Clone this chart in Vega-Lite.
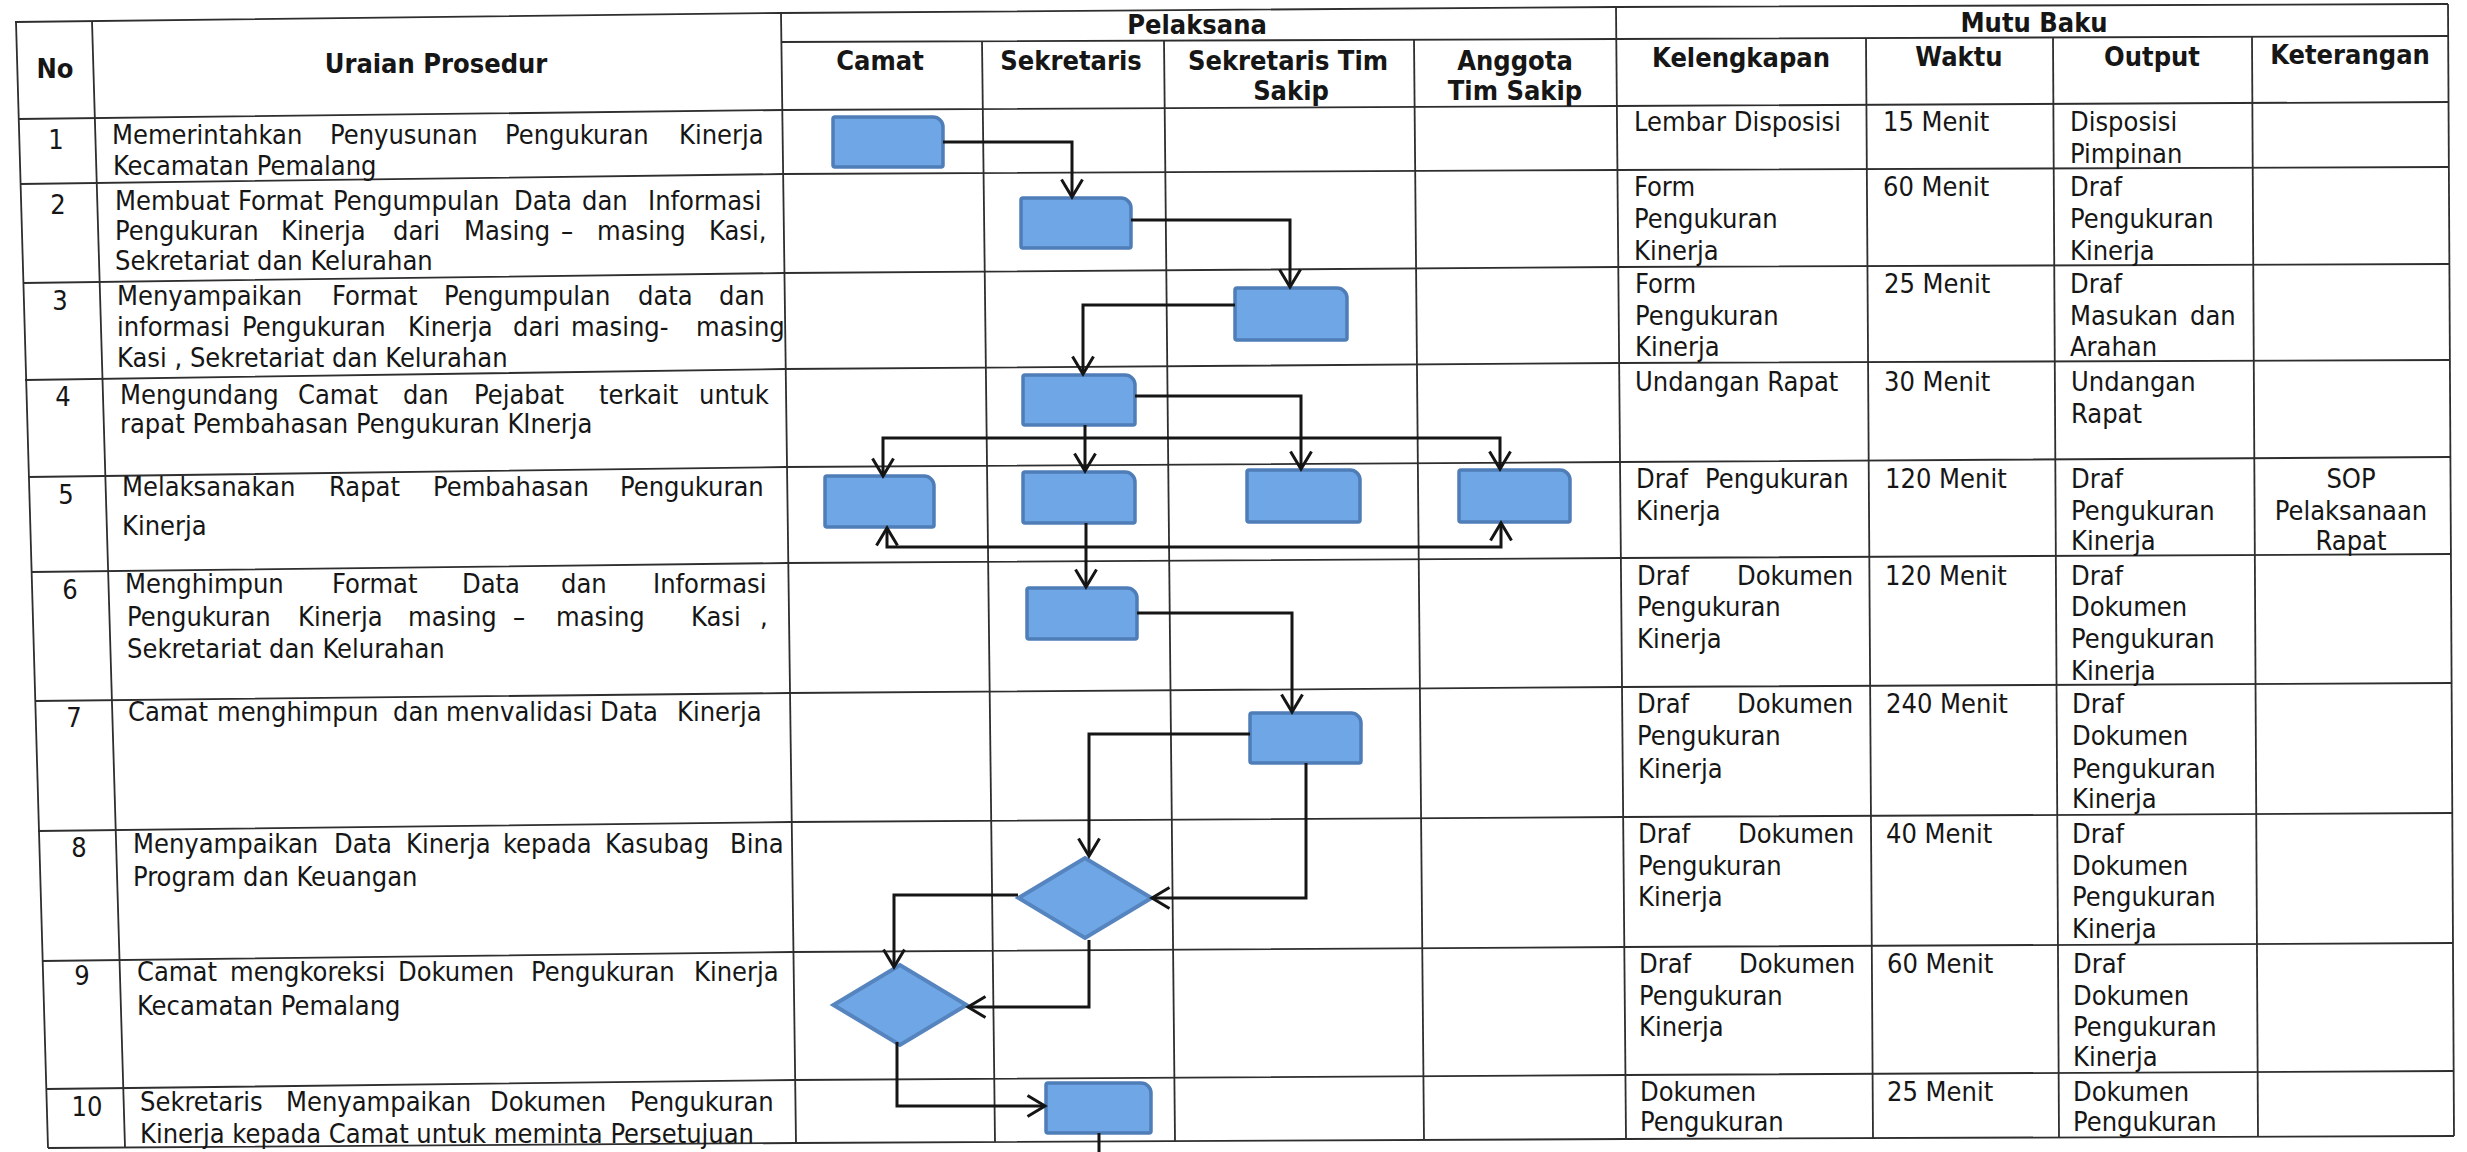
{
  "$schema": "https://vega.github.io/schema/vega-lite/v6.json",
  "width": 2467,
  "height": 1152,
  "autosize": "none",
  "padding": 0,
  "background": "#ffffff",
  "config": {"view": {"stroke": null}},
  "datasets": {
    "grid": [
      {"id":"htop","o":0,"x":15,"y":22},{"id":"htop","o":1,"x":781,"y":13},{"id":"htop","o":2,"x":1616,"y":7},{"id":"htop","o":3,"x":2448,"y":4},
      {"id":"hpel","o":0,"x":781,"y":42},{"id":"hpel","o":1,"x":1616,"y":39},{"id":"hpel","o":2,"x":2448,"y":36},
      {"id":"hhead","o":0,"x":18,"y":119},{"id":"hhead","o":1,"x":783,"y":110},{"id":"hhead","o":2,"x":1617,"y":106},{"id":"hhead","o":3,"x":2449,"y":102},
      {"id":"h1","o":0,"x":20,"y":184},{"id":"h1","o":1,"x":783,"y":174},{"id":"h1","o":2,"x":1618,"y":170},{"id":"h1","o":3,"x":2449,"y":167},
      {"id":"h2","o":0,"x":23,"y":283},{"id":"h2","o":1,"x":784,"y":273},{"id":"h2","o":2,"x":1618,"y":267},{"id":"h2","o":3,"x":2449,"y":264},
      {"id":"h3","o":0,"x":25,"y":380},{"id":"h3","o":1,"x":785,"y":369},{"id":"h3","o":2,"x":1619,"y":363},{"id":"h3","o":3,"x":2450,"y":360},
      {"id":"h4","o":0,"x":28,"y":477},{"id":"h4","o":1,"x":786,"y":467},{"id":"h4","o":2,"x":1620,"y":462},{"id":"h4","o":3,"x":2450,"y":457},
      {"id":"h5","o":0,"x":31,"y":572},{"id":"h5","o":1,"x":787,"y":563},{"id":"h5","o":2,"x":1621,"y":558},{"id":"h5","o":3,"x":2451,"y":554},
      {"id":"h6","o":0,"x":35,"y":701},{"id":"h6","o":1,"x":789,"y":693},{"id":"h6","o":2,"x":1622,"y":687},{"id":"h6","o":3,"x":2451,"y":683},
      {"id":"h7","o":0,"x":38,"y":831},{"id":"h7","o":1,"x":791,"y":822},{"id":"h7","o":2,"x":1623,"y":817},{"id":"h7","o":3,"x":2452,"y":813},
      {"id":"h8","o":0,"x":42,"y":961},{"id":"h8","o":1,"x":793,"y":952},{"id":"h8","o":2,"x":1624,"y":947},{"id":"h8","o":3,"x":2453,"y":943},
      {"id":"h9","o":0,"x":46,"y":1089},{"id":"h9","o":1,"x":795,"y":1080},{"id":"h9","o":2,"x":1625,"y":1075},{"id":"h9","o":3,"x":2453,"y":1071},
      {"id":"hbot","o":0,"x":48,"y":1148},{"id":"hbot","o":1,"x":796,"y":1143},{"id":"hbot","o":2,"x":1626,"y":1139},{"id":"hbot","o":3,"x":2454,"y":1136},
      {"id":"vleft","o":0,"x":16,"y":22},{"id":"vleft","o":1,"x":48,"y":1148},
      {"id":"vno","o":0,"x":92,"y":21},{"id":"vno","o":1,"x":125,"y":1147},
      {"id":"vur","o":0,"x":781,"y":13},{"id":"vur","o":1,"x":796,"y":1143},
      {"id":"vcs","o":0,"x":982,"y":41},{"id":"vcs","o":1,"x":995,"y":1142},
      {"id":"vss","o":0,"x":1164,"y":40},{"id":"vss","o":1,"x":1175,"y":1141},
      {"id":"vsa","o":0,"x":1414,"y":40},{"id":"vsa","o":1,"x":1424,"y":1140},
      {"id":"vak","o":0,"x":1616,"y":7},{"id":"vak","o":1,"x":1626,"y":1139},
      {"id":"vkw","o":0,"x":1866,"y":38},{"id":"vkw","o":1,"x":1873,"y":1138},
      {"id":"vwo","o":0,"x":2053,"y":37},{"id":"vwo","o":1,"x":2059,"y":1137},
      {"id":"vok","o":0,"x":2252,"y":37},{"id":"vok","o":1,"x":2258,"y":1137},
      {"id":"vright","o":0,"x":2448,"y":4},{"id":"vright","o":1,"x":2454,"y":1136}
    ],
    "conn": [
      {"id":"c1","o":0,"x":943,"y":142},{"id":"c1","o":1,"x":1072,"y":142},{"id":"c1","o":2,"x":1072,"y":196},
      {"id":"c2","o":0,"x":1131,"y":220},{"id":"c2","o":1,"x":1290,"y":220},{"id":"c2","o":2,"x":1290,"y":286},
      {"id":"c3","o":0,"x":1235,"y":305},{"id":"c3","o":1,"x":1083,"y":305},{"id":"c3","o":2,"x":1083,"y":373},
      {"id":"c4","o":0,"x":1135,"y":396},{"id":"c4","o":1,"x":1301,"y":396},{"id":"c4","o":2,"x":1301,"y":468},
      {"id":"c5","o":0,"x":1085,"y":425},{"id":"c5","o":1,"x":1085,"y":470},
      {"id":"c6","o":0,"x":883,"y":475},{"id":"c6","o":1,"x":883,"y":438},{"id":"c6","o":2,"x":1500,"y":438},{"id":"c6","o":3,"x":1500,"y":468},
      {"id":"c7","o":0,"x":887,"y":528},{"id":"c7","o":1,"x":887,"y":547},{"id":"c7","o":2,"x":1501,"y":547},{"id":"c7","o":3,"x":1501,"y":523},
      {"id":"c8","o":0,"x":1086,"y":523},{"id":"c8","o":1,"x":1086,"y":586},
      {"id":"c9","o":0,"x":1137,"y":613},{"id":"c9","o":1,"x":1292,"y":613},{"id":"c9","o":2,"x":1292,"y":711},
      {"id":"c10","o":0,"x":1250,"y":734},{"id":"c10","o":1,"x":1089,"y":734},{"id":"c10","o":2,"x":1089,"y":855},
      {"id":"c11","o":0,"x":1306,"y":763},{"id":"c11","o":1,"x":1306,"y":898},{"id":"c11","o":2,"x":1152,"y":898},
      {"id":"c12","o":0,"x":1018,"y":895},{"id":"c12","o":1,"x":894,"y":895},{"id":"c12","o":2,"x":894,"y":966},
      {"id":"c13","o":0,"x":1089,"y":940},{"id":"c13","o":1,"x":1089,"y":1007},{"id":"c13","o":2,"x":968,"y":1007},
      {"id":"c14","o":0,"x":897,"y":1042},{"id":"c14","o":1,"x":897,"y":1106},{"id":"c14","o":2,"x":1045,"y":1106},
      {"id":"c15","o":0,"x":1099,"y":1133},{"id":"c15","o":1,"x":1099,"y":1152}
    ],
    "arrows": [
      {"x":1072,"y":197,"d":"down"},{"x":1290,"y":287,"d":"down"},{"x":1083,"y":374,"d":"down"},
      {"x":1301,"y":469,"d":"down"},{"x":1085,"y":471,"d":"down"},{"x":883,"y":476,"d":"down"},
      {"x":1500,"y":469,"d":"down"},{"x":887,"y":528,"d":"up"},{"x":1501,"y":523,"d":"up"},
      {"x":1086,"y":587,"d":"down"},{"x":1292,"y":712,"d":"down"},{"x":1089,"y":856,"d":"down"},
      {"x":1152,"y":898,"d":"left"},{"x":894,"y":967,"d":"down"},{"x":968,"y":1007,"d":"left"},
      {"x":1045,"y":1106,"d":"right"}
    ],
    "boxes": [
      {"x":833,"y":117,"xe":943,"ye":167},
      {"x":1021,"y":198,"xe":1131,"ye":248},
      {"x":1235,"y":288,"xe":1347,"ye":340},
      {"x":1023,"y":375,"xe":1135,"ye":425},
      {"x":825,"y":476,"xe":934,"ye":527},
      {"x":1023,"y":472,"xe":1135,"ye":523},
      {"x":1247,"y":470,"xe":1360,"ye":522},
      {"x":1459,"y":470,"xe":1570,"ye":522},
      {"x":1027,"y":588,"xe":1137,"ye":639},
      {"x":1250,"y":713,"xe":1361,"ye":763},
      {"x":1046,"y":1083,"xe":1151,"ye":1133}
    ],
    "diamonds": [
      {"x":1085,"y":898},
      {"x":900,"y":1005}
    ],
    "texts": [
      {"k":"h","x":55,"y":70,"t":"No"},
      {"k":"h","x":436,"y":65,"t":"Uraian Prosedur"},
      {"k":"h","x":1197,"y":26,"t":"Pelaksana"},
      {"k":"h","x":880,"y":62,"t":"Camat"},
      {"k":"h","x":1071,"y":62,"t":"Sekretaris"},
      {"k":"h","x":1288,"y":62,"t":"Sekretaris Tim"},
      {"k":"h","x":1291,"y":92,"t":"Sakip"},
      {"k":"h","x":1515,"y":62,"t":"Anggota"},
      {"k":"h","x":1515,"y":92,"t":"Tim Sakip"},
      {"k":"h","x":2034,"y":24,"t":"Mutu Baku"},
      {"k":"h","x":1741,"y":59,"t":"Kelengkapan"},
      {"k":"h","x":1959,"y":58,"t":"Waktu"},
      {"k":"h","x":2152,"y":58,"t":"Output"},
      {"k":"h","x":2350,"y":56,"t":"Keterangan"},
      {"k":"c","x":56,"y":141,"t":"1"},
      {"k":"c","x":58,"y":206,"t":"2"},
      {"k":"c","x":60,"y":302,"t":"3"},
      {"k":"c","x":63,"y":398,"t":"4"},
      {"k":"c","x":66,"y":496,"t":"5"},
      {"k":"c","x":70,"y":591,"t":"6"},
      {"k":"c","x":74,"y":719,"t":"7"},
      {"k":"c","x":79,"y":849,"t":"8"},
      {"k":"c","x":82,"y":977,"t":"9"},
      {"k":"c","x":87,"y":1108,"t":"10"},
      {"k":"c","x":2351,"y":480,"t":"SOP"},
      {"k":"c","x":2351,"y":512,"t":"Pelaksanaan"},
      {"k":"c","x":2351,"y":542,"t":"Rapat"},
      {"k":"l","x":112,"y":136,"t":"Memerintahkan"},
      {"k":"l","x":330,"y":136,"t":"Penyusunan"},
      {"k":"l","x":505,"y":136,"t":"Pengukuran"},
      {"k":"l","x":679,"y":136,"t":"Kinerja"},
      {"k":"l","x":113,"y":167,"t":"Kecamatan Pemalang"},
      {"k":"l","x":115,"y":202,"t":"Membuat"},
      {"k":"l","x":238,"y":202,"t":"Format"},
      {"k":"l","x":333,"y":202,"t":"Pengumpulan"},
      {"k":"l","x":514,"y":202,"t":"Data"},
      {"k":"l","x":582,"y":202,"t":"dan"},
      {"k":"l","x":648,"y":202,"t":"Informasi"},
      {"k":"l","x":115,"y":232,"t":"Pengukuran"},
      {"k":"l","x":281,"y":232,"t":"Kinerja"},
      {"k":"l","x":393,"y":232,"t":"dari"},
      {"k":"l","x":464,"y":232,"t":"Masing"},
      {"k":"l","x":561,"y":232,"t":"–"},
      {"k":"l","x":597,"y":232,"t":"masing"},
      {"k":"l","x":709,"y":232,"t":"Kasi,"},
      {"k":"l","x":115,"y":262,"t":"Sekretariat dan Kelurahan"},
      {"k":"l","x":117,"y":297,"t":"Menyampaikan"},
      {"k":"l","x":332,"y":297,"t":"Format"},
      {"k":"l","x":444,"y":297,"t":"Pengumpulan"},
      {"k":"l","x":638,"y":297,"t":"data"},
      {"k":"l","x":719,"y":297,"t":"dan"},
      {"k":"l","x":117,"y":328,"t":"informasi"},
      {"k":"l","x":242,"y":328,"t":"Pengukuran"},
      {"k":"l","x":408,"y":328,"t":"Kinerja"},
      {"k":"l","x":513,"y":328,"t":"dari"},
      {"k":"l","x":571,"y":328,"t":"masing-"},
      {"k":"l","x":696,"y":328,"t":"masing"},
      {"k":"l","x":117,"y":359,"t":"Kasi , Sekretariat dan Kelurahan"},
      {"k":"l","x":120,"y":396,"t":"Mengundang"},
      {"k":"l","x":298,"y":396,"t":"Camat"},
      {"k":"l","x":403,"y":396,"t":"dan"},
      {"k":"l","x":474,"y":396,"t":"Pejabat"},
      {"k":"l","x":599,"y":396,"t":"terkait"},
      {"k":"l","x":699,"y":396,"t":"untuk"},
      {"k":"l","x":120,"y":425,"t":"rapat Pembahasan Pengukuran KInerja"},
      {"k":"l","x":122,"y":488,"t":"Melaksanakan"},
      {"k":"l","x":329,"y":488,"t":"Rapat"},
      {"k":"l","x":433,"y":488,"t":"Pembahasan"},
      {"k":"l","x":620,"y":488,"t":"Pengukuran"},
      {"k":"l","x":122,"y":527,"t":"Kinerja"},
      {"k":"l","x":125,"y":585,"t":"Menghimpun"},
      {"k":"l","x":332,"y":585,"t":"Format"},
      {"k":"l","x":462,"y":585,"t":"Data"},
      {"k":"l","x":561,"y":585,"t":"dan"},
      {"k":"l","x":653,"y":585,"t":"Informasi"},
      {"k":"l","x":127,"y":618,"t":"Pengukuran"},
      {"k":"l","x":298,"y":618,"t":"Kinerja"},
      {"k":"l","x":408,"y":618,"t":"masing"},
      {"k":"l","x":513,"y":618,"t":"–"},
      {"k":"l","x":556,"y":618,"t":"masing"},
      {"k":"l","x":691,"y":618,"t":"Kasi"},
      {"k":"l","x":760,"y":618,"t":","},
      {"k":"l","x":127,"y":650,"t":"Sekretariat dan Kelurahan"},
      {"k":"l","x":128,"y":713,"t":"Camat"},
      {"k":"l","x":217,"y":713,"t":"menghimpun"},
      {"k":"l","x":393,"y":713,"t":"dan"},
      {"k":"l","x":446,"y":713,"t":"menvalidasi"},
      {"k":"l","x":600,"y":713,"t":"Data"},
      {"k":"l","x":677,"y":713,"t":"Kinerja"},
      {"k":"l","x":133,"y":845,"t":"Menyampaikan"},
      {"k":"l","x":334,"y":845,"t":"Data"},
      {"k":"l","x":406,"y":845,"t":"Kinerja"},
      {"k":"l","x":503,"y":845,"t":"kepada"},
      {"k":"l","x":605,"y":845,"t":"Kasubag"},
      {"k":"l","x":730,"y":845,"t":"Bina"},
      {"k":"l","x":133,"y":878,"t":"Program dan Keuangan"},
      {"k":"l","x":137,"y":973,"t":"Camat"},
      {"k":"l","x":230,"y":973,"t":"mengkoreksi"},
      {"k":"l","x":398,"y":973,"t":"Dokumen"},
      {"k":"l","x":531,"y":973,"t":"Pengukuran"},
      {"k":"l","x":694,"y":973,"t":"Kinerja"},
      {"k":"l","x":137,"y":1007,"t":"Kecamatan Pemalang"},
      {"k":"l","x":140,"y":1103,"t":"Sekretaris"},
      {"k":"l","x":286,"y":1103,"t":"Menyampaikan"},
      {"k":"l","x":490,"y":1103,"t":"Dokumen"},
      {"k":"l","x":630,"y":1103,"t":"Pengukuran"},
      {"k":"l","x":140,"y":1135,"t":"Kinerja kepada Camat untuk meminta Persetujuan"},
      {"k":"l","x":1634,"y":123,"t":"Lembar Disposisi"},
      {"k":"l","x":1883,"y":123,"t":"15 Menit"},
      {"k":"l","x":2070,"y":123,"t":"Disposisi"},
      {"k":"l","x":2070,"y":155,"t":"Pimpinan"},
      {"k":"l","x":1634,"y":188,"t":"Form"},
      {"k":"l","x":1634,"y":220,"t":"Pengukuran"},
      {"k":"l","x":1634,"y":252,"t":"Kinerja"},
      {"k":"l","x":1883,"y":188,"t":"60 Menit"},
      {"k":"l","x":2070,"y":188,"t":"Draf"},
      {"k":"l","x":2070,"y":220,"t":"Pengukuran"},
      {"k":"l","x":2070,"y":252,"t":"Kinerja"},
      {"k":"l","x":1635,"y":285,"t":"Form"},
      {"k":"l","x":1635,"y":317,"t":"Pengukuran"},
      {"k":"l","x":1635,"y":348,"t":"Kinerja"},
      {"k":"l","x":1884,"y":285,"t":"25 Menit"},
      {"k":"l","x":2070,"y":285,"t":"Draf"},
      {"k":"l","x":2070,"y":317,"t":"Masukan"},
      {"k":"l","x":2190,"y":317,"t":"dan"},
      {"k":"l","x":2070,"y":348,"t":"Arahan"},
      {"k":"l","x":1635,"y":383,"t":"Undangan Rapat"},
      {"k":"l","x":1884,"y":383,"t":"30 Menit"},
      {"k":"l","x":2071,"y":383,"t":"Undangan"},
      {"k":"l","x":2071,"y":415,"t":"Rapat"},
      {"k":"l","x":1636,"y":480,"t":"Draf"},
      {"k":"l","x":1705,"y":480,"t":"Pengukuran"},
      {"k":"l","x":1636,"y":512,"t":"Kinerja"},
      {"k":"l","x":1885,"y":480,"t":"120 Menit"},
      {"k":"l","x":2071,"y":480,"t":"Draf"},
      {"k":"l","x":2071,"y":512,"t":"Pengukuran"},
      {"k":"l","x":2071,"y":542,"t":"Kinerja"},
      {"k":"l","x":1637,"y":577,"t":"Draf"},
      {"k":"l","x":1737,"y":577,"t":"Dokumen"},
      {"k":"l","x":1637,"y":608,"t":"Pengukuran"},
      {"k":"l","x":1637,"y":640,"t":"Kinerja"},
      {"k":"l","x":1885,"y":577,"t":"120 Menit"},
      {"k":"l","x":2071,"y":577,"t":"Draf"},
      {"k":"l","x":2071,"y":608,"t":"Dokumen"},
      {"k":"l","x":2071,"y":640,"t":"Pengukuran"},
      {"k":"l","x":2071,"y":672,"t":"Kinerja"},
      {"k":"l","x":1637,"y":705,"t":"Draf"},
      {"k":"l","x":1737,"y":705,"t":"Dokumen"},
      {"k":"l","x":1637,"y":737,"t":"Pengukuran"},
      {"k":"l","x":1638,"y":770,"t":"Kinerja"},
      {"k":"l","x":1886,"y":705,"t":"240 Menit"},
      {"k":"l","x":2072,"y":705,"t":"Draf"},
      {"k":"l","x":2072,"y":737,"t":"Dokumen"},
      {"k":"l","x":2072,"y":770,"t":"Pengukuran"},
      {"k":"l","x":2072,"y":800,"t":"Kinerja"},
      {"k":"l","x":1638,"y":835,"t":"Draf"},
      {"k":"l","x":1738,"y":835,"t":"Dokumen"},
      {"k":"l","x":1638,"y":867,"t":"Pengukuran"},
      {"k":"l","x":1638,"y":898,"t":"Kinerja"},
      {"k":"l","x":1886,"y":835,"t":"40 Menit"},
      {"k":"l","x":2072,"y":835,"t":"Draf"},
      {"k":"l","x":2072,"y":867,"t":"Dokumen"},
      {"k":"l","x":2072,"y":898,"t":"Pengukuran"},
      {"k":"l","x":2072,"y":930,"t":"Kinerja"},
      {"k":"l","x":1639,"y":965,"t":"Draf"},
      {"k":"l","x":1739,"y":965,"t":"Dokumen"},
      {"k":"l","x":1639,"y":997,"t":"Pengukuran"},
      {"k":"l","x":1639,"y":1028,"t":"Kinerja"},
      {"k":"l","x":1887,"y":965,"t":"60 Menit"},
      {"k":"l","x":2073,"y":965,"t":"Draf"},
      {"k":"l","x":2073,"y":997,"t":"Dokumen"},
      {"k":"l","x":2073,"y":1028,"t":"Pengukuran"},
      {"k":"l","x":2073,"y":1058,"t":"Kinerja"},
      {"k":"l","x":1640,"y":1093,"t":"Dokumen"},
      {"k":"l","x":1640,"y":1123,"t":"Pengukuran"},
      {"k":"l","x":1887,"y":1093,"t":"25 Menit"},
      {"k":"l","x":2073,"y":1093,"t":"Dokumen"},
      {"k":"l","x":2073,"y":1123,"t":"Pengukuran"}
    ]
  },
  "encoding": {
    "x": {"field": "x", "type": "quantitative", "scale": {"domain": [0, 2467], "nice": false, "zero": false}, "axis": null},
    "y": {"field": "y", "type": "quantitative", "scale": {"domain": [0, 1152], "nice": false, "zero": false, "reverse": true}, "axis": null}
  },
  "layer": [
    {
      "data": {"name": "grid"},
      "mark": {"type": "line", "stroke": "#2e2e2e", "strokeWidth": 1.8},
      "encoding": {"detail": {"field": "id"}, "order": {"field": "o"}}
    },
    {
      "data": {"name": "boxes"},
      "mark": {"type": "rect", "fill": "#6fa7e6", "stroke": "#4f7db8", "strokeWidth": 3.5, "cornerRadiusTopRight": 10, "cornerRadiusTopLeft": 2, "cornerRadiusBottomLeft": 2, "cornerRadiusBottomRight": 2},
      "encoding": {"x2": {"field": "xe"}, "y2": {"field": "ye"}}
    },
    {
      "data": {"name": "diamonds"},
      "mark": {"type": "point", "shape": "M-1,0L0,-0.6L1,0L0,0.6Z", "size": 17700, "filled": true, "fill": "#6fa7e6", "stroke": "#5584bf", "strokeWidth": 4, "opacity": 1}
    },
    {
      "data": {"name": "conn"},
      "mark": {"type": "line", "stroke": "#151515", "strokeWidth": 3, "strokeJoin": "miter"},
      "encoding": {"detail": {"field": "id"}, "order": {"field": "o"}}
    },
    {
      "data": {"name": "arrows"},
      "mark": {"type": "point", "filled": false, "stroke": "#151515", "strokeWidth": 3, "size": 1225, "opacity": 1},
      "encoding": {
        "shape": {"field": "d", "type": "nominal", "legend": null,
          "scale": {"domain": ["down", "up", "left", "right"],
            "range": ["M-0.6,-1L0,0L0.6,-1", "M-0.6,1L0,0L0.6,1", "M1,-0.6L0,0L1,0.6", "M-1,-0.6L0,0L-1,0.6"]}}
      }
    },
    {
      "data": {"name": "texts"},
      "transform": [{"filter": "datum.k == 'h'"}],
      "mark": {"type": "text", "font": "DejaVu Sans Condensed, DejaVu Sans", "fontWeight": "bold", "fontSize": 27, "align": "center", "baseline": "middle", "fill": "#161616"},
      "encoding": {"text": {"field": "t"}}
    },
    {
      "data": {"name": "texts"},
      "transform": [{"filter": "datum.k == 'c'"}],
      "mark": {"type": "text", "font": "DejaVu Sans Condensed, DejaVu Sans", "fontSize": 27, "align": "center", "baseline": "middle", "fill": "#161616"},
      "encoding": {"text": {"field": "t"}}
    },
    {
      "data": {"name": "texts"},
      "transform": [{"filter": "datum.k == 'l'"}],
      "mark": {"type": "text", "font": "DejaVu Sans Condensed, DejaVu Sans", "fontSize": 27, "align": "left", "baseline": "middle", "fill": "#161616"},
      "encoding": {"text": {"field": "t"}}
    }
  ]
}
